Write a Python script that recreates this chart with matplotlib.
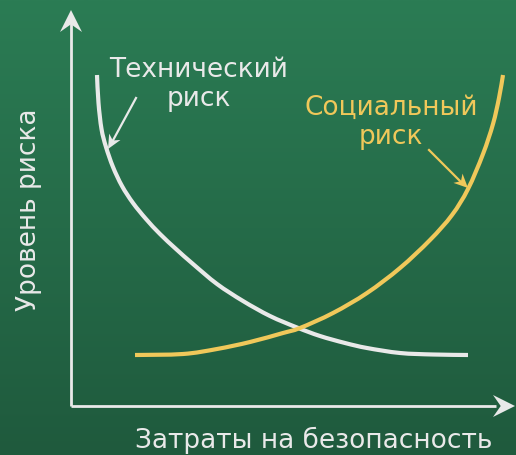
import numpy as np
import matplotlib
matplotlib.use("Agg")
import matplotlib.pyplot as plt
from matplotlib.colors import LinearSegmentedColormap
from matplotlib.patches import Polygon, PathPatch
from matplotlib.path import Path

# ---- data (x = затраты, y = уровень риска; origin at axes corner) ----
tech_x = [26, 27.5, 30.5, 35, 42, 51, 62, 75, 89, 105, 122, 146, 172, 199,
          226, 249, 274, 296, 329, 362, 397]
tech_y = [331, 303, 277, 259, 239, 220, 203, 187, 172, 157, 142, 122, 105, 90,
          78.5, 70, 63, 58, 53, 51.5, 51]
soc_x = [64, 112, 146, 179, 212, 229, 262, 296, 329, 359, 381, 397,
         412, 422, 428, 432]
soc_y = [51, 52, 57, 64, 73, 78, 93, 113, 138, 166, 191, 217,
         252, 282, 308, 331]

x_label = "Затраты на безопасность"
y_label = "Уровень риска"
tech_label = "Технический\nриск"
soc_label = "Социальный\nриск"

W, H = 516, 455
ox, oy = 71, 406   # pixel position of origin

WHITE = "#e9e9e9"
YELLOW = "#f0c85a"

fig = plt.figure(figsize=(W / 100, H / 100), dpi=100)
ax = fig.add_axes([0, 0, 1, 1])
ax.set_xlim(-ox, W - ox)
ax.set_ylim(oy - H, oy)
ax.axis("off")

# background gradient
cmap = LinearSegmentedColormap.from_list("bg", ["#1f5a3d", "#2b7c54"])
grad = np.linspace(0, 1, 256).reshape(-1, 1)
ax.imshow(grad, cmap=cmap, aspect="auto", extent=(-ox, W - ox, oy - H, oy),
          origin="lower", zorder=0)

# axes lines
ax.plot([0, 0], [0, 385], color=WHITE, lw=2, solid_capstyle="butt", zorder=2)
ax.plot([0, 425], [0, 0], color=WHITE, lw=2, solid_capstyle="butt", zorder=2)


def head(tip, direction, length, width, notch, color):
    d = np.array(direction, float)
    d /= np.hypot(*d)
    n = np.array([-d[1], d[0]])
    tip = np.array(tip, float)
    back = tip - d * length
    pts = [tip, back + n * width / 2, tip - d * length * (1 - notch), back - n * width / 2]
    ax.add_patch(Polygon(pts, closed=True, color=color, lw=0, zorder=3))


def smooth_curve(xs, ys, color, lw):
    """Draw a smooth Bezier path through the given points (Catmull-Rom style)."""
    P = np.column_stack([xs, ys]).astype(float)
    n = len(P)
    verts = [P[0]]
    codes = [Path.MOVETO]
    for i in range(n - 1):
        p0 = P[i - 1] if i > 0 else P[i]
        p1, p2 = P[i], P[i + 1]
        p3 = P[i + 2] if i + 2 < n else P[i + 1]
        c1 = p1 + (p2 - p0) / 6.0
        c2 = p2 - (p3 - p1) / 6.0
        verts += [c1, c2, p2]
        codes += [Path.CURVE4] * 3
    ax.add_patch(PathPatch(Path(verts, codes), fill=False, edgecolor=color,
                           lw=lw, capstyle="butt", joinstyle="round", zorder=4))


head((0, 396), (0, 1), 22, 22, 0.35, WHITE)
head((444, 0), (1, 0), 22, 22, 0.35, WHITE)

# curves
smooth_curve(tech_x, tech_y, WHITE, 3.0)
smooth_curve(soc_x, soc_y, YELLOW, 3.0)

# label arrows
ax.plot([65, 40], [308, 262], color=WHITE, lw=1.6, zorder=3)
head((37, 257), (-28, -50), 14, 13, 0.3, WHITE)
ax.plot([358, 392], [256, 222], color=YELLOW, lw=1.6, zorder=3)
head((397, 218), (39, -38), 14, 13, 0.3, YELLOW)

fs = 19
ax.text(128, 300, tech_label, color=WHITE, fontsize=fs, ha="center", va="baseline",
        linespacing=1.15, family="DejaVu Sans", zorder=5)
ax.text(320, 262, soc_label, color=YELLOW, fontsize=fs, ha="center", va="baseline",
        linespacing=1.15, family="DejaVu Sans", zorder=5)
ax.text(243, -42, x_label, color=WHITE, fontsize=fs, ha="center", va="baseline",
        family="DejaVu Sans", zorder=5)
ax.text(-42, 196, y_label, color=WHITE, fontsize=fs, ha="center", va="center",
        rotation=90, family="DejaVu Sans", zorder=5)

fig.savefig("out.png", dpi=100)
